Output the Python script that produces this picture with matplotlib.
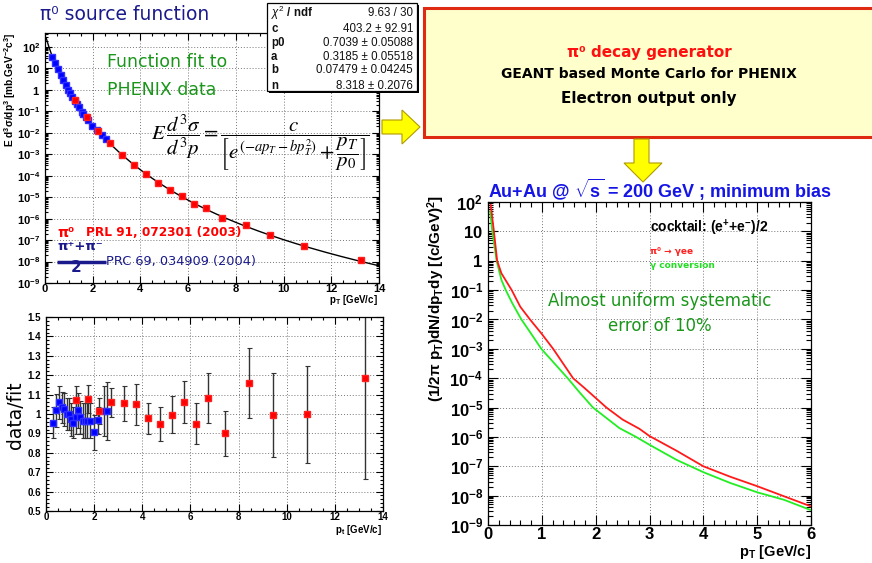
import numpy as np
import matplotlib
matplotlib.use("Agg")
import matplotlib.pyplot as plt
from matplotlib.ticker import MultipleLocator, LogLocator, FuncFormatter, NullFormatter
from matplotlib.patches import Rectangle, Polygon

plt.rcParams["font.family"] = ["Liberation Sans", "DejaVu Sans"]
plt.rcParams["mathtext.fontset"] = "custom"
plt.rcParams["mathtext.rm"] = "Liberation Sans"
plt.rcParams["mathtext.bf"] = "Liberation Sans:bold"
plt.rcParams["mathtext.it"] = "Liberation Sans:italic"
plt.rcParams["mathtext.sf"] = "Liberation Sans"

# ---------------- data ----------------
# fit parameters of the pi0 source function
fit_c, fit_p0, fit_a, fit_b, fit_n = 403.2, 0.7039, 0.3185, 0.07479, 8.318
fit_chi2, fit_ndf = 9.63, 30

# (pi+ + pi-)/2, PRC 69 034909: pT, data/fit, error
pt_charged = [0.31, 0.42, 0.54, 0.65, 0.75, 0.86, 0.96, 1.04, 1.14, 1.24,
              1.33, 1.42, 1.55, 1.61, 1.71, 1.81, 1.99, 2.18, 2.39, 2.55]
ratio_charged = [0.955, 1.02, 1.06, 1.035, 1.024, 1.0, 1.0, 0.974, 0.955, 0.983,
                 1.02, 0.983, 0.965, 0.965, 0.965, 0.965, 0.907, 0.967, 1.015, 1.015]
err_charged = [0.08, 0.085, 0.085, 0.08, 0.085, 0.085, 0.085, 0.085, 0.08, 0.085,
               0.09, 0.085, 0.09, 0.09, 0.09, 0.09, 0.09, 0.07, 0.13, 0.15]

# pi0, PRL 91 072301: pT, data/fit, error
pt_neutral = [1.25, 1.76, 2.21, 2.72, 3.24, 3.74, 4.24, 4.75, 5.25, 5.75,
              6.24, 6.73, 7.42, 8.44, 9.45, 10.84, 13.25]
ratio_neutral = [1.072, 1.077, 1.015, 1.06, 1.055, 1.05, 0.977, 0.948, 0.997, 1.062,
                 0.95, 1.083, 0.9, 1.158, 0.995, 0.998, 1.187]
err_neutral = [0.07, 0.07, 0.065, 0.075, 0.09, 0.105, 0.078, 0.087, 0.095, 0.107,
               0.105, 0.13, 0.117, 0.18, 0.217, 0.25, 0.52]

# electron cocktail, Au+Au 200 GeV minimum bias
pt_pi0ee = [0.05, 0.11, 0.17, 0.25, 0.44, 0.6, 0.78, 1.0, 1.21, 1.58, 1.8, 2.2, 2.5,
            2.81, 3.0, 3.5, 4.0, 4.5, 5.0, 5.5, 6.0]
y_pi0ee = [80, 10, 1, 0.37, 0.1, 2.7e-2, 1e-2, 3.2e-3, 1e-3, 1e-4, 4.5e-5, 1e-5, 3.9e-6,
           1.9e-6, 1.07e-6, 3.4e-7, 1e-7, 4.4e-8, 2.1e-8, 9.5e-9, 4.3e-9]
pt_conv = [0.04, 0.08, 0.16, 0.25, 0.33, 0.45, 0.62, 0.8, 0.99, 1.48, 1.7, 1.95, 2.44,
           2.75, 3.0, 3.5, 4.0, 4.5, 5.0, 5.5, 6.0]
y_conv = [47, 10, 1, 0.22, 0.1, 3.6e-2, 1e-2, 3.3e-3, 1e-3, 1e-4, 3.3e-5, 1e-5, 2e-6,
          1e-6, 5.4e-7, 1.66e-7, 6.3e-8, 2.7e-8, 1.3e-8, 7.2e-9, 3.2e-9]

# ---------------- figure ----------------
W, H = 872, 563
fig = plt.figure(figsize=(W / 100, H / 100), dpi=100)
fig.patch.set_facecolor("white")


def px_axes(x0, y0, x1, y1, **kw):
    return fig.add_axes([x0 / W, 1 - y1 / H, (x1 - x0) / W, (y1 - y0) / H], **kw)


def root_log(v, pos):
    e = int(round(np.log10(v)))
    if e == 0:
        return r"$\mathbf{1}$"
    if e == 1:
        return r"$\mathbf{10}$"
    return r"$\mathbf{10}^{\mathbf{%d}}$" % e


def root_lin(v, pos):
    return ("%.1f" % v).rstrip("0").rstrip(".")


def style_axes(ax, size, major_len=5, minor_len=2.5, xpad=2.0):
    ax.tick_params(which="both", direction="in", top=True, right=True,
                   width=0.8, labelsize=size)
    ax.tick_params(which="major", length=major_len)
    ax.tick_params(which="minor", length=minor_len)
    ax.tick_params(axis="x", pad=xpad)
    for lab in ax.get_xticklabels() + ax.get_yticklabels():
        lab.set_fontweight("bold")
    ax.grid(True, which="major", linestyle=(0, (1, 2)), color="#777777", lw=0.7)
    for sp in ax.spines.values():
        sp.set_linewidth(0.9)


def source_fit(pt):
    pt = np.asarray(pt, dtype=float)
    return fit_c / (np.exp(-fit_a * pt - fit_b * pt ** 2) + pt / fit_p0) ** fit_n


# ---- upper left: invariant cross section with fit ----
ax1 = px_axes(45, 33, 379, 283)
ax1.set_yscale("log")
ax1.set_xlim(0, 14)
ax1.set_ylim(1e-9, 450)
pt_line = np.linspace(0.05, 14, 400)
ax1.plot(pt_line, source_fit(pt_line), color="black", lw=1.0, zorder=2)
ax1.plot(pt_charged, source_fit(pt_charged) * np.array(ratio_charged), "s",
         color="#0000ff", ms=5, mec="#3030ff", zorder=3)
ax1.plot(pt_neutral, source_fit(pt_neutral) * np.array(ratio_neutral), "s",
         color="#ff0000", ms=5, mec="#ff2020", zorder=4)
ax1.xaxis.set_major_locator(MultipleLocator(2))
ax1.xaxis.set_minor_locator(MultipleLocator(0.5))
ax1.yaxis.set_major_locator(LogLocator(base=10, numticks=20))
ax1.yaxis.set_minor_locator(LogLocator(base=10, subs=np.arange(2, 10), numticks=20))
ax1.yaxis.set_major_formatter(FuncFormatter(root_log))
ax1.yaxis.set_minor_formatter(NullFormatter())
ax1.xaxis.set_major_formatter(FuncFormatter(root_lin))
style_axes(ax1, 8, xpad=0.5)

# ---- lower left: data / fit ----
ax2 = px_axes(46, 317, 383, 511)
ax2.set_xlim(0, 14)
ax2.set_ylim(0.5, 1.5)
ax2.errorbar(pt_charged, ratio_charged, yerr=err_charged, fmt="none",
             ecolor="#333333", elinewidth=1.0, capsize=1.8, capthick=0.8, zorder=2)
ax2.errorbar(pt_neutral, ratio_neutral, yerr=err_neutral, fmt="none",
             ecolor="#333333", elinewidth=1.0, capsize=1.8, capthick=0.8, zorder=2)
ax2.plot(pt_charged, ratio_charged, "s", color="#0000ff", ms=4, mec="#3030ff", zorder=3)
ax2.plot(pt_neutral, ratio_neutral, "s", color="#ff0000", ms=4, mec="#ff2020", zorder=4)
ax2.xaxis.set_major_locator(MultipleLocator(2))
ax2.xaxis.set_minor_locator(MultipleLocator(0.5))
ax2.yaxis.set_major_locator(MultipleLocator(0.1))
ax2.yaxis.set_minor_locator(MultipleLocator(0.02))
ax2.xaxis.set_major_formatter(FuncFormatter(root_lin))
ax2.yaxis.set_major_formatter(FuncFormatter(root_lin))
style_axes(ax2, 7, xpad=1.0)

# ---- right: electron cocktail ----
ax3 = px_axes(488, 202, 811, 525)
ax3.set_yscale("log")
ax3.set_xlim(0, 6)
ax3.set_ylim(1e-9, 1e2)
ax3.plot(pt_conv, y_conv, color="#22ee22", lw=1.3, zorder=3)
ax3.plot(pt_pi0ee, y_pi0ee, color="#ff1a1a", lw=1.3, zorder=4)
ax3.xaxis.set_major_locator(MultipleLocator(1))
ax3.xaxis.set_minor_locator(MultipleLocator(0.2))
ax3.yaxis.set_major_locator(LogLocator(base=10, numticks=20))
ax3.yaxis.set_minor_locator(LogLocator(base=10, subs=np.arange(2, 10), numticks=20))
ax3.yaxis.set_major_formatter(FuncFormatter(root_log))
ax3.yaxis.set_minor_formatter(NullFormatter())
ax3.xaxis.set_major_formatter(FuncFormatter(root_lin))
style_axes(ax3, 12, major_len=7, minor_len=3.5, xpad=1.5)

# ---- overlay in pixel coordinates ----
ov = fig.add_axes([0, 0, 1, 1], zorder=10)
ov.set_xlim(0, W)
ov.set_ylim(H, 0)
ov.axis("off")
ov.patch.set_alpha(0)

navy = "#1a1a8c"
green = "#1a961a"
comic = "DejaVu Sans"

ov.text(40, 15, "π⁰ source function", color=navy, fontsize=13.5, family=comic,
        va="center", ha="left")
ov.text(107, 62, "Function fit to", color=green, fontsize=12.5, family=comic,
        va="center", ha="left")
ov.text(107, 90, "PHENIX data", color=green, fontsize=12.5, family=comic,
        va="center", ha="left")
ov.text(260, 143,
        r"$E\,\dfrac{d^3\sigma}{d^3p}=\dfrac{c}{\left[e^{(-ap_T-bp_T^2)}+\dfrac{p_T}{p_0}\right]}$",
        math_fontfamily="stix", fontsize=15, ha="center", va="center")

# upper panel axis titles
ov.text(10, 33, r"E d$^\mathbf{3}$σ/dp$^\mathbf{3}$ [mb.GeV$^\mathbf{-2}$c$^\mathbf{3}$]",
        rotation=90, fontsize=7.3, fontweight="bold", ha="center", va="top")
ov.text(378, 300, r"p$_\mathbf{T}$ [GeV/c]", fontsize=7, fontweight="bold",
        ha="right", va="center")

# data legend
ov.text(57, 233, "π⁰", color="#ff0000", fontsize=10, family=comic, fontweight="bold",
        va="center", ha="left")
ov.text(86, 233, "PRL 91, 072301 (2003)", color="#ff0000", fontsize=8.7, family=comic,
        fontweight="bold", va="center", ha="left")
ov.text(57, 247, "π⁺+π⁻", color=navy, fontsize=9.5, family=comic, fontweight="bold",
        va="center", ha="left")
ov.plot([57, 106], [262, 262], color=navy, lw=2.5, solid_capstyle="butt")
ov.text(76, 268, "2", color=navy, fontsize=11, family=comic, fontweight="bold",
        va="center", ha="center")
ov.text(106, 262, "PRC 69, 034909 (2004)", color=navy, fontsize=9.3, family=comic,
        va="center", ha="left")

# lower panel axis titles
ov.text(16, 415, "data/fit", rotation=90, fontsize=13.5, family=comic,
        ha="center", va="center")
ov.text(382, 530, r"p$_\mathbf{t}$ [GeV/c]", fontsize=7, fontweight="bold",
        ha="right", va="center")

# fit statistics box
ov.add_patch(Rectangle((269, 5), 150, 88, facecolor="black", edgecolor="none", zorder=1))
ov.add_patch(Rectangle((267, 3), 150, 88, facecolor="white", edgecolor="black",
                       lw=0.9, zorder=2))
stats_rows = [
    (r"$\chi^2$ / ndf", "%g / %d" % (fit_chi2, fit_ndf), 13),
    ("c", "%.1f ± 92.91" % fit_c, 29),
    ("p0", "%.4f ± 0.05088" % fit_p0, 43),
    ("a", "%.4f ± 0.05518" % fit_a, 56.5),
    ("b", "%.5f ± 0.04245" % fit_b, 70),
    ("n", "%.3f ± 0.2076" % fit_n, 86),
]
for name, val, yy in stats_rows:
    ov.text(271, yy, name, fontsize=8.3, fontweight="bold", va="center", ha="left",
            zorder=3, color="#111111")
    ov.text(413, yy, val, fontsize=8.3, va="center", ha="right", zorder=3,
            color="#111111")

# generator box
ov.add_patch(Rectangle((424, 8), 460, 129, facecolor="#ffffcc", edgecolor="#dd2a10",
                       lw=2.2, zorder=1))
ov.text(649, 52, "π⁰ decay generator", color="#ff1010", fontsize=11, family=comic,
        fontweight="bold", ha="center", va="center", zorder=3)
ov.text(649, 74, "GEANT based Monte Carlo for PHENIX", color="black", fontsize=10,
        family=comic, fontweight="bold", ha="center", va="center", zorder=3)
ov.text(649, 98, "Electron output only", color="black", fontsize=11, family=comic,
        fontweight="bold", ha="center", va="center", zorder=3)

# arrows
arrow_fill, arrow_edge = "#ffff00", "#b09a00"
ov.add_patch(Polygon([(382, 120), (402, 120), (402, 110), (420, 127), (402, 144),
                      (402, 134), (382, 134)], closed=True, facecolor=arrow_fill,
                     edgecolor=arrow_edge, lw=0.8, zorder=2))
ov.add_patch(Polygon([(634, 139), (649, 139), (649, 163), (662, 163), (643, 182),
                      (624, 163), (634, 163)], closed=True, facecolor=arrow_fill,
                     edgecolor=arrow_edge, lw=0.8, zorder=2))

# right panel titles and annotations
ov.text(488, 190, r"Au+Au @ $\mathbf{\sqrt{s}}$ = 200 GeV ; minimum bias", color="#1515e6",
        fontsize=13, fontweight="bold", ha="left", va="center")
ov.text(436, 298, r"(1/2π p$_\mathbf{T}$)dN/dp$_\mathbf{T}$dy [(c/GeV)$^\mathbf{2}$]",
        rotation=90, fontsize=11, fontweight="bold", ha="center", va="center")
ov.text(811, 552, r"p$_\mathbf{T}$ [GeV/c]", fontsize=10.5, fontweight="bold",
        ha="right", va="center")
ov.text(650, 228, r"cocktail: (e$^\mathbf{+}$+e$^\mathbf{-}$)/2", fontsize=10,
        fontweight="bold", ha="left", va="center")
ov.text(650, 252, r"π⁰ → γee", color="#ff2020", fontsize=6.5, fontweight="bold",
        family=["DejaVu Sans"], ha="left", va="center")
ov.text(650, 266, "γ conversion", color="#22dd22", fontsize=6.5, fontweight="bold",
        family=["DejaVu Sans"], ha="left", va="center")
ov.text(660, 301, "Almost uniform systematic", color=green, fontsize=12, family=comic,
        ha="center", va="center")
ov.text(660, 326, "error of 10%", color=green, fontsize=12, family=comic,
        ha="center", va="center")

fig.savefig("out.png", dpi=100)
